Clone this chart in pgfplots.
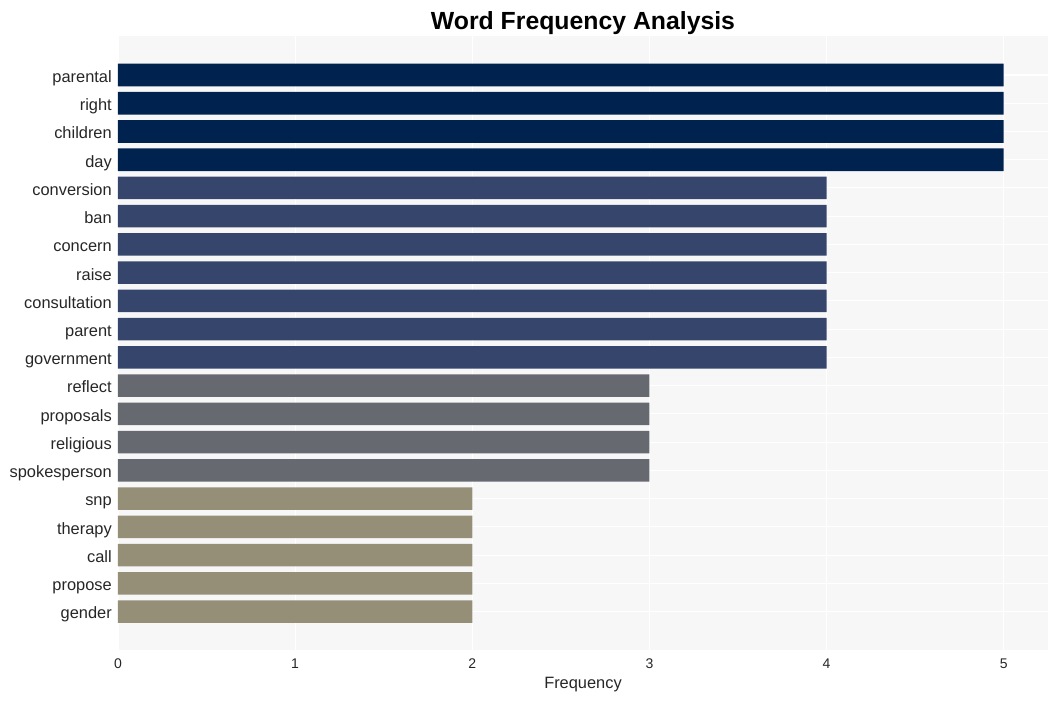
\documentclass[border=0pt]{standalone}
\usepackage{fontspec}
\setmainfont{Liberation Sans}
\usepackage{pgfplots}
\pgfplotsset{compat=1.18}
\definecolor{cfive}{HTML}{00224E}
\definecolor{cfour}{HTML}{35456C}
\definecolor{cthree}{HTML}{666970}
\definecolor{ctwo}{HTML}{958F78}
\definecolor{bgc}{HTML}{F7F7F7}
\definecolor{txt}{HTML}{262626}
\begin{document}
\begin{tikzpicture}
\begin{axis}[
  at={(0,0)}, anchor=south west,
  scale only axis,
  width=697.5pt, height=460.5pt,
  xmin=0, xmax=5.25,
  ymin=-1.36, ymax=20.38,
  xbar, bar width=0.8, bar shift=0pt,
  axis background/.style={fill=bgc},
  axis line style={draw=none},
  major tick length=0pt,
  grid=major,
  major grid style={draw=white, line width=0.8pt},
  xtick={0,1,2,3,4,5},
  ytick={0,...,19},
  yticklabels={gender,propose,call,therapy,snp,spokesperson,religious,proposals,reflect,government,parent,consultation,raise,concern,ban,conversion,day,children,right,parental},
  /pgf/number format/assume math mode=true,
  yticklabel style={font=\fontsize{12.3}{14}\selectfont, text=txt, inner sep=0pt, anchor=base east, xshift=-4.5pt, yshift=-5.5pt},
  xticklabel style={font=\fontsize{10.5}{12}\selectfont, text=txt, inner sep=0pt, yshift=-6.5pt},
  xlabel={Frequency},
  xlabel style={font=\fontsize{12.3}{14}\selectfont, text=txt, at={(axis description cs:0.5,0)}, anchor=base, yshift=-29pt},
  title={Word Frequency Analysis},
  title style={font=\bfseries\fontsize{18.6}{20}\selectfont, at={(axis description cs:0.5,1)}, anchor=base, yshift=-1pt},
]
\addplot[fill=cfive, draw=none] coordinates {(5,16) (5,17) (5,18) (5,19)};
\addplot[fill=cfour, draw=none] coordinates {(4,9) (4,10) (4,11) (4,12) (4,13) (4,14) (4,15)};
\addplot[fill=cthree, draw=none] coordinates {(3,5) (3,6) (3,7) (3,8)};
\addplot[fill=ctwo, draw=none] coordinates {(2,0) (2,1) (2,2) (2,3) (2,4)};
\end{axis}
\pgfresetboundingbox
\path (-88.5pt,-38.25pt) rectangle (705pt,487.5pt);
\end{tikzpicture}
\end{document}
